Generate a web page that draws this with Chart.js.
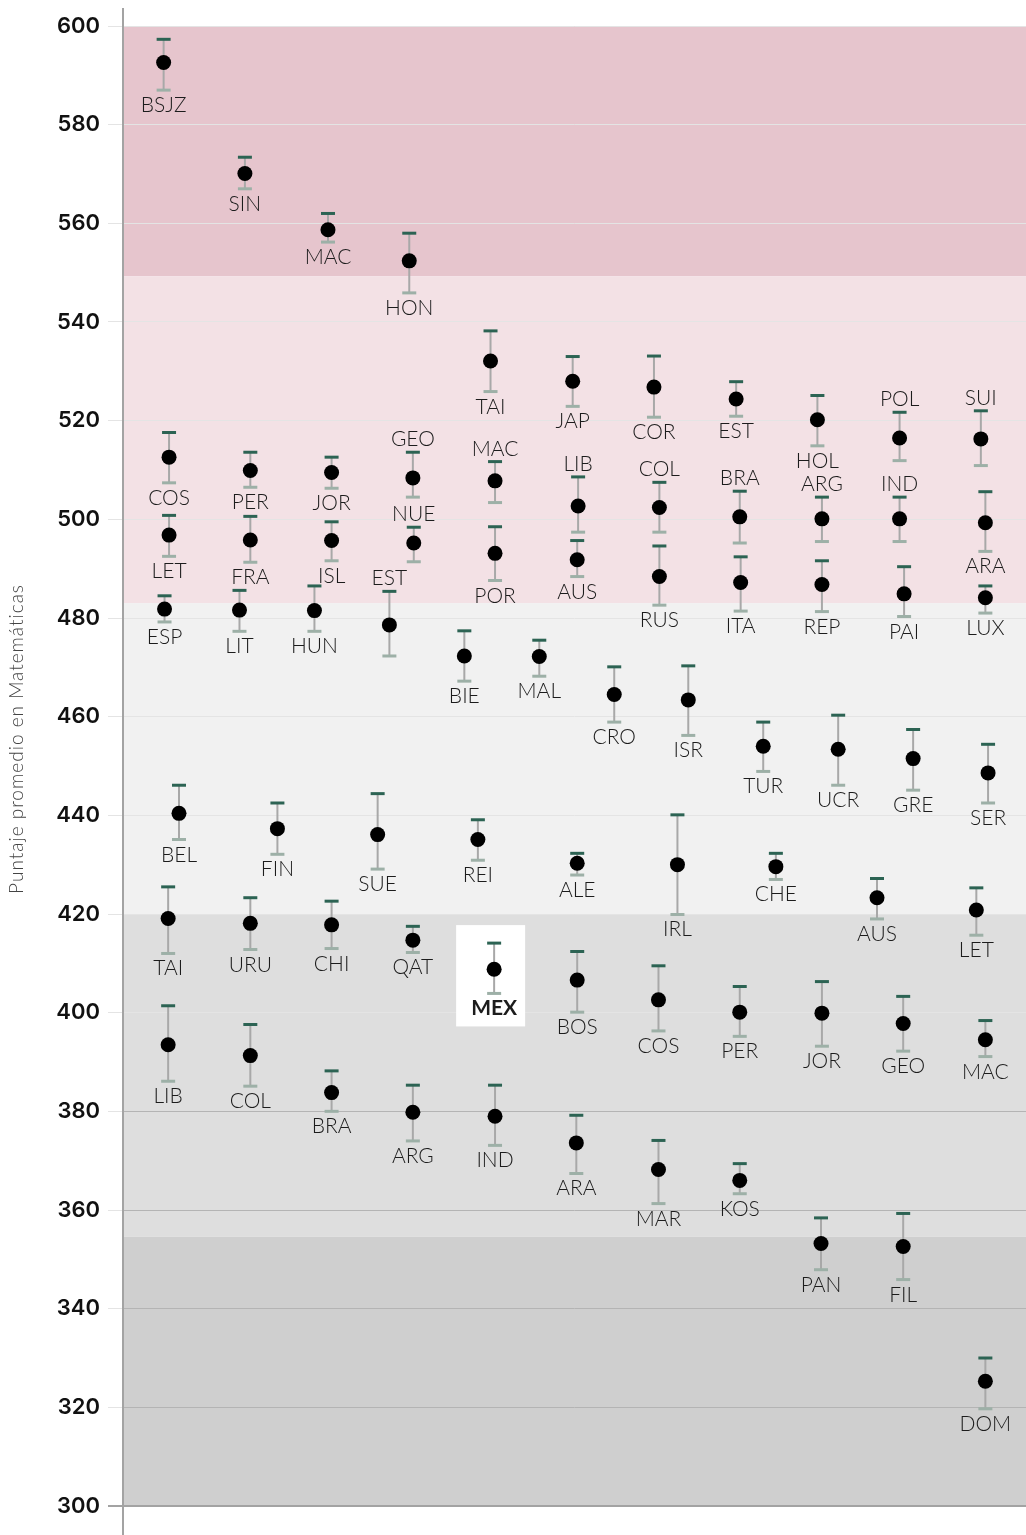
<!DOCTYPE html>
<html lang="es">
<head>
<meta charset="UTF-8">
<title>Puntaje promedio en Matemáticas</title>
<script src="https://cdn.jsdelivr.net/npm/chart.js@4.4.1/dist/chart.umd.min.js"></script>
<style>
    html, body { margin: 0; padding: 0; background: #ffffff; }
    #grafico { display: block; }
</style>
</head>
<body>
<canvas id="grafico" width="1026" height="1535"></canvas>
<script>
// datos, fila por fila
const paises = [
    'BSJZ', 'SIN', 'MAC', 'HON', 'TAI', 'JAP', 'COR', 'EST', 'HOL', 'POL', 'SUI',
    'COS', 'PER', 'JOR', 'GEO', 'MAC', 'LIB', 'COL', 'BRA', 'ARG', 'IND', 'ARA',
    'LET', 'FRA', 'ISL', 'NUE', 'POR', 'AUS', 'RUS', 'ITA', 'REP', 'PAI', 'LUX',
    'ESP', 'LIT', 'HUN', 'EST', 'BIE', 'MAL', 'CRO', 'ISR', 'TUR', 'UCR', 'GRE', 'SER',
    'BEL', 'FIN', 'SUE', 'REI', 'ALE', 'IRL', 'CHE', 'AUS', 'LET',
    'TAI', 'URU', 'CHI', 'QAT', 'MEX', 'BOS', 'COS', 'PER', 'JOR', 'GEO', 'MAC',
    'LIB', 'COL', 'BRA', 'ARG', 'IND', 'ARA', 'MAR', 'KOS', 'PAN', 'FIL', 'DOM'
];

const posicionX = [
    4.5, 13.5, 22.7, 31.7, 40.7, 49.8, 58.8, 67.9, 76.9, 86.0, 95.0,
    5.1, 14.1, 23.1, 32.1, 41.2, 50.4, 59.4, 68.3, 77.4, 86.0, 95.5,
    5.1, 14.1, 23.1, 32.2, 41.2, 50.3, 59.4, 68.4, 77.4, 86.5, 95.5,
    4.6, 12.9, 21.2, 29.5, 37.8, 46.1, 54.4, 62.6, 70.9, 79.2, 87.5, 95.8,
    6.2, 17.1, 28.2, 39.3, 50.3, 61.4, 72.3, 83.5, 94.5,
    5.0, 14.1, 23.1, 32.1, 41.1, 50.3, 59.3, 68.3, 77.4, 86.4, 95.5,
    5.0, 14.1, 23.1, 32.1, 41.2, 50.2, 59.3, 68.3, 77.3, 86.4, 95.5
];

const puntajes = [
    592.6, 570.1, 558.7, 552.4, 532.1, 528.0, 526.8, 524.4, 520.2, 516.5, 516.3,
    512.6, 509.9, 509.5, 508.4, 507.8, 502.7, 502.4, 500.5, 500.1, 500.1, 499.3,
    496.8, 495.8, 495.7, 495.2, 493.1, 491.8, 488.4, 487.2, 486.8, 484.9, 484.1,
    481.8, 481.6, 481.5, 478.6, 472.3, 472.2, 464.5, 463.4, 454.0, 453.4, 451.5, 448.6,
    440.4, 437.3, 436.1, 435.1, 430.3, 430.0, 429.6, 423.3, 420.8,
    419.1, 418.1, 417.8, 414.7, 408.8, 406.6, 402.6, 400.1, 399.9, 397.8, 394.5,
    393.5, 391.3, 383.8, 379.8, 379.0, 373.6, 368.2, 366.0, 353.2, 352.6, 325.3
];

const limiteSuperior = [
    597.3, 573.4, 562.0, 558.0, 538.2, 533.0, 533.1, 527.9, 525.1, 521.7, 522.0,
    517.6, 513.6, 512.6, 513.6, 511.7, 508.6, 507.5, 505.7, 504.5, 504.5, 505.6,
    500.8, 500.6, 499.5, 498.4, 498.5, 495.7, 494.6, 492.4, 491.6, 490.4, 486.5,
    484.5, 485.6, 486.5, 485.4, 477.4, 475.5, 470.1, 470.3, 458.9, 460.3, 457.4, 454.4,
    446.1, 442.5, 444.4, 439.1, 432.3, 440.1, 432.3, 427.2, 425.3,
    425.5, 423.3, 422.6, 417.5, 414.1, 412.4, 409.5, 405.3, 406.3, 403.3, 398.4,
    401.4, 397.6, 388.2, 385.3, 385.3, 379.2, 374.1, 369.4, 358.4, 359.3, 330.0
];

const limiteInferior = [
    587.0, 567.0, 556.2, 545.9, 525.9, 522.9, 520.7, 520.9, 514.9, 511.9, 510.9,
    507.4, 506.5, 506.3, 504.5, 503.4, 497.4, 497.4, 495.2, 495.5, 495.5, 493.5,
    492.5, 491.3, 491.6, 491.4, 487.6, 488.4, 482.6, 481.4, 481.3, 480.3, 481.0,
    479.2, 477.3, 477.3, 472.3, 467.2, 468.2, 458.9, 456.2, 448.9, 446.1, 445.1, 442.5,
    435.1, 432.1, 429.1, 430.9, 427.9, 419.9, 427.0, 419.0, 415.7,
    412.0, 412.8, 413.0, 412.2, 403.9, 400.1, 396.3, 395.2, 393.2, 392.2, 391.1,
    386.1, 385.1, 380.0, 374.0, 373.1, 367.4, 361.3, 363.3, 347.9, 345.9, 319.7
];

// 1 = etiqueta encima del punto, 0 = debajo
const etiquetaArriba = [
    0, 0, 0, 0, 0, 0, 0, 0, 0, 1, 1,
    0, 0, 0, 1, 1, 1, 1, 1, 1, 1, 0,
    0, 0, 0, 1, 0, 0, 0, 0, 0, 0, 0,
    0, 0, 0, 1, 0, 0, 0, 0, 0, 0, 0, 0,
    0, 0, 0, 0, 0, 0, 0, 0, 0,
    0, 0, 0, 0, 0, 0, 0, 0, 0, 0, 0,
    0, 0, 0, 0, 0, 0, 0, 0, 0, 0, 0
];

const destacado = 'MEX';

const marcasY = [300, 320, 340, 360, 380, 400, 420, 440, 460, 480, 500, 520, 540, 560, 580, 600];

// franjas de fondo (de arriba hacia abajo)
const cortesNivel = [600, 549.3, 483, 420, 354.6, 300];
const coloresNivel = ['#e6c5cd', '#f3e1e5', '#f1f1f1', '#dedede', '#cfcfcf'];

const tituloY = 'Puntaje promedio en Matemáticas';

const pluginFondo = {
    id: 'fondo',
    beforeDraw(chart) {
        const { ctx, chartArea, scales } = chart;
        ctx.save();
        for (let i = 0; i < coloresNivel.length; i++) {
            const yArriba = scales.y.getPixelForValue(cortesNivel[i]);
            const yAbajo = scales.y.getPixelForValue(cortesNivel[i + 1]);
            ctx.fillStyle = coloresNivel[i];
            ctx.fillRect(chartArea.left, yArriba, chartArea.right - chartArea.left, yAbajo - yArriba);
        }
        ctx.restore();
    }
};

const pluginErrores = {
    id: 'errores',
    beforeDatasetsDraw(chart) {
        const { ctx, scales } = chart;
        ctx.save();
        for (let i = 0; i < paises.length; i++) {
            const px = scales.x.getPixelForValue(posicionX[i]);
            const ySup = scales.y.getPixelForValue(limiteSuperior[i]);
            const yInf = scales.y.getPixelForValue(limiteInferior[i]);

            if (paises[i] === destacado) {
                ctx.fillStyle = '#ffffff';
                ctx.fillRect(px - 38, ySup - 18, 69, yInf - ySup + 51);
            }

            ctx.strokeStyle = '#a8a8a8';
            ctx.lineWidth = 2;
            ctx.beginPath();
            ctx.moveTo(px, ySup);
            ctx.lineTo(px, yInf);
            ctx.stroke();

            ctx.lineWidth = 3;
            ctx.strokeStyle = '#9db0a7';
            ctx.beginPath();
            ctx.moveTo(px - 7, yInf);
            ctx.lineTo(px + 7, yInf);
            ctx.stroke();

            ctx.strokeStyle = '#2c6353';
            ctx.beginPath();
            ctx.moveTo(px - 7, ySup);
            ctx.lineTo(px + 7, ySup);
            ctx.stroke();
        }
        ctx.restore();
    },
    afterDatasetsDraw(chart) {
        const { ctx, scales } = chart;
        ctx.save();
        ctx.textAlign = 'center';
        ctx.textBaseline = 'alphabetic';
        ctx.fillStyle = '#1c1c1c';
        for (let i = 0; i < paises.length; i++) {
            const px = scales.x.getPixelForValue(posicionX[i]);
            let py;
            if (etiquetaArriba[i]) {
                py = scales.y.getPixelForValue(limiteSuperior[i]) - 6;
            } else {
                py = scales.y.getPixelForValue(limiteInferior[i]) + 22;
            }
            ctx.font = paises[i] === destacado ? '700 21px Lato' : '300 21px Lato';
            ctx.fillText(paises[i], px, py);
        }
        ctx.restore();
    },
    afterDraw(chart) {
        const { ctx, chartArea } = chart;
        ctx.save();
        // eje vertical que sobresale del área
        ctx.strokeStyle = '#a3a3a3';
        ctx.lineWidth = 2;
        ctx.beginPath();
        ctx.moveTo(chartArea.left, 8);
        ctx.lineTo(chartArea.left, chart.height);
        ctx.stroke();

        ctx.translate(17, 739);
        ctx.rotate(-Math.PI / 2);
        ctx.font = '300 19px Lato';
        ctx.letterSpacing = '1px';
        ctx.fillStyle = '#444444';
        ctx.textAlign = 'center';
        ctx.textBaseline = 'middle';
        ctx.fillText(tituloY, 0, 0);
        ctx.restore();
    }
};

let graficoPuntajes;

function plotarGrafico() {
    const ctx = document.getElementById('grafico');

    const data = {
        datasets: [{
            label: 'Puntaje',
            data: paises.map((p, i) => ({ x: posicionX[i], y: puntajes[i] })),
            backgroundColor: '#000000',
            borderColor: '#000000',
            pointRadius: 7.5,
            pointHoverRadius: 7.5,
            borderWidth: 0
        }]
    };

    const config = {
        type: 'scatter',
        data: data,
        options: {
            responsive: false,
            animation: false,
            events: [],
            layout: { autoPadding: false, padding: { top: 26, bottom: 29, left: 0, right: 0 } },
            plugins: {
                legend: { display: false },
                tooltip: { enabled: false }
            },
            scales: {
                x: {
                    type: 'linear',
                    min: 0,
                    max: 100,
                    display: false
                },
                y: {
                    min: 300,
                    max: 600,
                    afterBuildTicks(scale) {
                        scale.ticks = marcasY.map(v => ({ value: v }));
                    },
                    afterFit(scale) {
                        scale.width = 123;
                    },
                    border: { display: false },
                    grid: {
                        color: (c) => c.tick.value === 300 ? '#a3a3a3' : (c.tick.value <= 380 ? '#b4b4b4' : '#e4e4e4'),
                        tickColor: (c) => c.tick.value === 300 ? '#a3a3a3' : '#e4e4e4',
                        lineWidth: (c) => c.tick.value === 300 ? 2 : 1,
                        tickLength: 15
                    },
                    ticks: {
                        padding: 8,
                        color: '#111111',
                        font: { family: 'Inter', size: 22, weight: '600' }
                    }
                }
            }
        },
        plugins: [pluginFondo, pluginErrores]
    };

    graficoPuntajes = new Chart(ctx, config);
}

plotarGrafico();
</script>
</body>
</html>
